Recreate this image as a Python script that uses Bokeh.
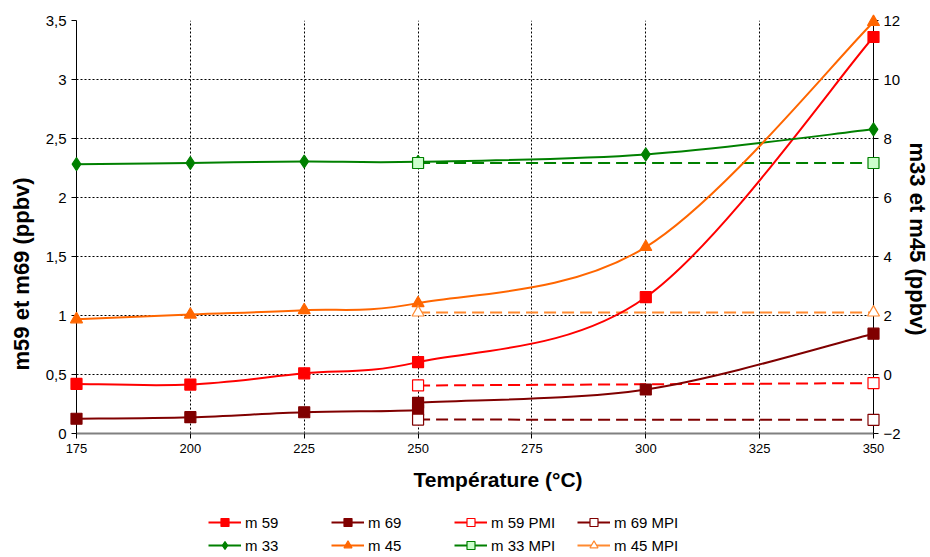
import numpy as np
from bokeh.plotting import figure
from bokeh.layouts import column
from bokeh.models import Range1d, LinearAxis, FixedTicker, Legend, LegendItem, Title
from bokeh.embed import file_html
from bokeh.resources import INLINE

# ---------------- data ----------------
x_ticks = [175, 200, 225, 250, 275, 300, 325, 350]
y_left_ticks = [0, 0.5, 1, 1.5, 2, 2.5, 3, 3.5]
y_left_labels = ["0", "0,5", "1", "1,5", "2", "2,5", "3", "3,5"]
y_right_ticks = [-2, 0, 2, 4, 6, 8, 10, 12]

temp = [175, 200, 225, 250, 300, 350]
m59 = [0.42, 0.415, 0.51, 0.605, 1.155, 3.36]
temp_m69 = [175, 200, 225, 250, 250, 300, 350]
m69 = [0.125, 0.138, 0.18, 0.20, 0.26, 0.373, 0.846]
m33 = [7.13, 7.17, 7.22, 7.21, 7.46, 8.31]
m45 = [1.87, 2.03, 2.18, 2.42, 4.32, 11.95]

temp_mpi = [250, 350]
m59_pmi = [0.407, 0.427]
m69_mpi = [0.118, 0.116]
m33_mpi = [7.17, 7.17]
m45_mpi = [2.10, 2.10]

legend_labels = ["m 59", "m 69", "m 59 PMI", "m 69 MPI",
                 "m 33", "m 45", "m 33 MPI", "m 45 MPI"]

FONT = "Liberation Sans"
RED = "#FF0000"
DRED = "#800000"
GREEN = "#008000"
ORANGE = "#FF6600"
LORANGE = "#FF8A30"
LGREEN = "#CCFFCC"


def bezier_segments(xs, ys):
    """Excel-style smoothed line: cubic Bezier segments through the points."""
    P = np.column_stack([np.asarray(xs, float), np.asarray(ys, float)])
    n = len(P)
    seg = dict(x0=[], y0=[], x1=[], y1=[], cx0=[], cy0=[], cx1=[], cy1=[])
    for i in range(n - 1):
        pm = P[i - 1] if i > 0 else P[i]
        p0 = P[i]
        p1 = P[i + 1]
        p2 = P[i + 2] if i + 2 < n else P[i + 1]
        if p0[0] == p1[0]:
            c0, c1 = p0, p1          # vertical step: straight segment
        else:
            c0 = p0 + (p1 - pm) / 6.0
            c1 = p1 - (p2 - p0) / 6.0
        seg["x0"].append(p0[0]); seg["y0"].append(p0[1])
        seg["x1"].append(p1[0]); seg["y1"].append(p1[1])
        seg["cx0"].append(c0[0]); seg["cy0"].append(c0[1])
        seg["cx1"].append(c1[0]); seg["cy1"].append(c1[1])
    return seg


p = figure(width=930, height=506,
           x_range=Range1d(175, 350), y_range=Range1d(0, 3.5),
           output_backend="svg", toolbar_location=None,
           min_border_left=76, min_border_right=57,
           min_border_top=20, min_border_bottom=73)
p.extra_y_ranges = {"right": Range1d(-2, 12)}
p.outline_line_color = None
p.background_fill_color = "white"
p.border_fill_color = "white"


def style_axis(ax, size):
    ax.major_label_text_font = FONT
    ax.major_label_text_font_size = size
    ax.major_label_text_color = "black"
    ax.major_label_standoff = 5
    ax.major_tick_in = 0
    ax.major_tick_out = 5
    ax.major_tick_line_color = "black"
    ax.minor_tick_line_color = None


def make_title(text, size, **kw):
    return Title(text=text, text_font=FONT, text_font_style="bold",
                 text_font_size=size, text_color="black", **kw)


# ---- axes ----
xa = p.xaxis[0]
xa.ticker = FixedTicker(ticks=x_ticks)
style_axis(xa, "13px")
xa.axis_line_color = "#808080"
xa.axis_line_width = 2

ya = p.yaxis[0]
ya.ticker = FixedTicker(ticks=y_left_ticks)
ya.major_label_overrides = {float(t): l for t, l in zip(y_left_ticks, y_left_labels)}
style_axis(ya, "15px")
ya.axis_line_color = "black"

yr = LinearAxis(y_range_name="right", ticker=FixedTicker(ticks=y_right_ticks))
style_axis(yr, "15px")
yr.axis_line_color = "black"
p.add_layout(yr, "right")

# axis titles (placed as side titles so they can sit off-centre like the original)
p.add_layout(make_title("Température (°C)", "21px", align="left", offset=337,
                        vertical_align="middle", standoff=23), "below")
p.add_layout(make_title("m59 et m69 (ppbv)", "22px", align="left", offset=63,
                        vertical_align="middle", standoff=15), "left")
p.add_layout(make_title("m33 et m45 (ppbv)", "22px", align="left", offset=122,
                        vertical_align="middle", standoff=0), "right")

# ---- grid ----
for g in (p.xgrid[0], p.ygrid[0]):
    g.grid_line_color = "black"
    g.grid_line_dash = "2 2"
    g.grid_line_width = 1
p.xgrid[0].ticker = FixedTicker(ticks=x_ticks)
p.ygrid[0].ticker = FixedTicker(ticks=y_left_ticks)


def smooth_series(xs, ys, color, rng=None):
    kw = {} if rng is None else {"y_range_name": rng}
    seg = bezier_segments(xs, ys)
    return p.bezier(x0=seg["x0"], y0=seg["y0"], x1=seg["x1"], y1=seg["y1"],
                    cx0=seg["cx0"], cy0=seg["cy0"], cx1=seg["cx1"], cy1=seg["cy1"],
                    line_color=color, line_width=2, **kw)


def dashed_series(xs, ys, color, rng=None):
    kw = {} if rng is None else {"y_range_name": rng}
    return p.line(xs, ys, line_color=color, line_width=2, line_dash="12 6", **kw)


def markers(fig, xs, ys, marker, size, line, fill, rng=None, level="overlay"):
    kw = {} if rng is None else {"y_range_name": rng}
    return fig.scatter(xs, ys, marker=marker, size=size, line_color=line,
                       fill_color=fill, line_width=1.2, level=level, **kw)


# MPI dashed reference lines
dashed_series(temp_mpi, m59_pmi, RED)
dashed_series(temp_mpi, m69_mpi, DRED)
dashed_series(temp_mpi, m33_mpi, GREEN, "right")
dashed_series(temp_mpi, m45_mpi, LORANGE, "right")

# main smoothed series
smooth_series(temp, m59, RED)
smooth_series(temp_m69, m69, DRED)
smooth_series(temp, m33, GREEN, "right")
smooth_series(temp, m45, ORANGE, "right")

markers(p, temp, m59, "square", 11, RED, RED)
markers(p, temp_m69, m69, "square", 11, DRED, DRED)
markers(p, temp, m33, "diamond", 13, GREEN, GREEN, "right")
markers(p, temp, m45, "triangle", 12, ORANGE, ORANGE, "right")

markers(p, temp_mpi, m59_pmi, "square", 11, RED, "white")
markers(p, temp_mpi, m69_mpi, "square", 11, DRED, "white")
markers(p, temp_mpi, m33_mpi, "square", 11, GREEN, LGREEN, "right")
markers(p, temp_mpi, m45_mpi, "triangle", 12, LORANGE, "white", "right")

# ---------------- legend strip (separate figure below) ----------------
pl = figure(width=930, height=51, x_range=Range1d(0, 1), y_range=Range1d(0, 1),
            x_axis_type=None, y_axis_type=None,
            output_backend="svg", toolbar_location=None,
            min_border_left=0, min_border_right=0,
            min_border_top=0, min_border_bottom=0)
pl.outline_line_color = None
pl.xgrid.visible = False
pl.ygrid.visible = False

# legend proxies: same series, plotted outside this strip's visible range
legend_series = [
    (temp, m59, RED, "square", RED, RED),
    (temp_m69, m69, DRED, "square", DRED, DRED),
    (temp_mpi, m59_pmi, RED, "square", RED, "white"),
    (temp_mpi, m69_mpi, DRED, "square", DRED, "white"),
    (temp, m33, GREEN, "diamond", GREEN, GREEN),
    (temp, m45, ORANGE, "triangle", ORANGE, ORANGE),
    (temp_mpi, m33_mpi, GREEN, "square", GREEN, LGREEN),
    (temp_mpi, m45_mpi, LORANGE, "triangle", LORANGE, "white"),
]
items = []
for lab, (xs, ys, lc, mk, ml, mf) in zip(legend_labels, legend_series):
    rl = pl.line(xs, ys, line_color=lc, line_width=2)
    rm = markers(pl, xs, ys, mk, 11, ml, mf, level="glyph")
    items.append(LegendItem(label=lab, renderers=[rl, rm]))

legend = Legend(items=items, orientation="horizontal", ncols=4,
                location=(132, 2),
                glyph_width=33, glyph_height=20, label_height=20,
                label_width=83, label_standoff=4, spacing=3, padding=0,
                margin=0, border_line_color=None, background_fill_alpha=0,
                label_text_font=FONT, label_text_font_size="15px",
                label_text_color="black")
pl.add_layout(legend, "center")

layout = column(p, pl, spacing=0)
open("out.html", "w").write(file_html(layout, INLINE))
